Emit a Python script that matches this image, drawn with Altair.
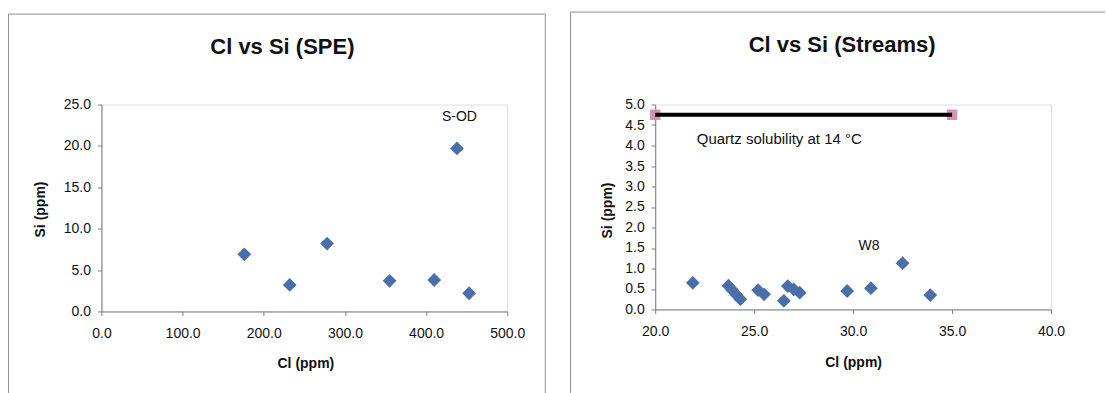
import altair as alt
import pandas as pd

# SPE samples: chloride vs silica (ppm)
spe_cl = [176, 232, 278, 355, 410, 438, 453]
spe_si = [6.9, 3.2, 8.2, 3.7, 3.8, 19.7, 2.2]
spe_label_text = ["S-OD"]
spe_label_cl = [441]
spe_label_si = [23.5]

# Stream samples: chloride vs silica (ppm)
stream_cl = [21.9, 23.7, 23.9, 24.1, 24.3, 25.2, 25.5, 26.5, 26.7, 27.0, 27.3, 29.7, 30.9, 32.5, 33.9]
stream_si = [0.65, 0.58, 0.47, 0.36, 0.25, 0.47, 0.37, 0.21, 0.57, 0.49, 0.41, 0.45, 0.52, 1.13, 0.35]
stream_label_text = ["W8"]
stream_label_cl = [30.8]
stream_label_si = [1.55]

# Quartz solubility reference line at 14 °C
quartz_cl = [20.0, 35.0]
quartz_si = [4.75, 4.75]
quartz_text = ["Quartz solubility at 14 °C"]
quartz_text_cl = [22.1]
quartz_text_si = [4.15]

titles = ["Cl vs Si (SPE)", "Cl vs Si (Streams)"]

spe_ticks_x = [0, 100, 200, 300, 400, 500]
spe_ticks_y = [0, 5, 10, 15, 20, 25]
stream_ticks_x = [20, 25, 30, 35, 40]
stream_ticks_y = [0, 0.5, 1, 1.5, 2, 2.5, 3, 3.5, 4, 4.5, 5]

FONT = "Liberation Sans"
BLUE = "#4a6fa8"
PINK = "#cf86ac"
AXIS_GREY = "#7a7a7a"
FRAME_GREY = "#8f8f8f"
INK = "#111111"

spe = pd.DataFrame({"cl": spe_cl, "si": spe_si})
spe_lab = pd.DataFrame({"cl": spe_label_cl, "si": spe_label_si, "text": spe_label_text})
streams = pd.DataFrame({"cl": stream_cl, "si": stream_si})
stream_lab = pd.DataFrame({"cl": stream_label_cl, "si": stream_label_si, "text": stream_label_text})
quartz = pd.DataFrame({"cl": quartz_cl, "si": quartz_si})
quartz_lab = pd.DataFrame({"cl": quartz_text_cl, "si": quartz_text_si, "text": quartz_text})
one = pd.DataFrame({"k": [0]})


def axis(values, title, orient, title_x, title_y):
    return alt.Axis(
        values=values, format=".1f", grid=False, title=title,
        domainColor=AXIS_GREY, tickColor=AXIS_GREY, tickSize=4,
        labelFont=FONT, labelFontSize=14, labelColor=INK,
        labelPadding=11 if orient == "x" else 7,
        labelFlush=False, labelOverlap=False,
        titleFont=FONT, titleFontSize=14, titleFontWeight="bold", titleColor=INK,
        titleX=title_x, titleY=title_y, titleBaseline="middle", titleAlign="center",
    )


def frame(x1, x2, y1, y2, right_edge=True):
    base = alt.Chart(one)
    parts = [
        base.mark_rule(color=FRAME_GREY, strokeWidth=1).encode(
            x=alt.value(x1), y=alt.value(y1), y2=alt.value(y2)),
        base.mark_rule(color=FRAME_GREY, strokeWidth=1).encode(
            x=alt.value(x1), x2=alt.value(x2), y=alt.value(y1)),
    ]
    if right_edge:
        parts.append(base.mark_rule(color=FRAME_GREY, strokeWidth=1).encode(
            x=alt.value(x2), y=alt.value(y1), y2=alt.value(y2)))
    return parts


def heading(text, x, y):
    return alt.Chart(one).mark_text(
        text=text, font=FONT, fontSize=22, fontWeight="bold", color=INK,
        align="center", baseline="alphabetic",
    ).encode(x=alt.value(x), y=alt.value(y))


def label_text(df, x, y, size=14, align="center"):
    return alt.Chart(df).mark_text(
        font=FONT, fontSize=size, color=INK, align=align, baseline="middle"
    ).encode(x=x, y=y, text="text:N")


# ---- left panel: SPE ----
LW, LH = 406, 207
lx = alt.X("cl:Q", scale=alt.Scale(domain=[0, 500], nice=False, zero=False),
           axis=axis(spe_ticks_x, "Cl (ppm)", "x", LW / 2 + 1, 52))
ly = alt.Y("si:Q", scale=alt.Scale(domain=[0, 25], nice=False, zero=False),
           axis=axis(spe_ticks_y, "Si (ppm)", "y", -61, LH / 2 + 1))

spe_points = alt.Chart(spe).mark_point(
    shape="diamond", filled=True, size=190, color=BLUE, opacity=1
).encode(x=lx, y=ly)

left = alt.layer(
    *frame(-93, 444, -90.5, 290.5),
    heading(titles[0], 181, -51),
    spe_points,
    label_text(spe_lab, lx, ly),
).properties(width=LW, height=LH)

# ---- right panel: Streams ----
RW, RH = 396, 205
rx = alt.X("cl:Q", scale=alt.Scale(domain=[20, 40], nice=False, zero=False),
           axis=axis(stream_ticks_x, "Cl (ppm)", "x", RW / 2, 53))
ry = alt.Y("si:Q", scale=alt.Scale(domain=[0, 5], nice=False, zero=False),
           axis=axis(stream_ticks_y, "Si (ppm)", "y", -48, RH / 2 + 3))

quartz_marks = alt.Chart(quartz).mark_square(size=110, color=PINK, opacity=0.9).encode(x=rx, y=ry)
quartz_line = alt.Chart(quartz).mark_line(color="#000000", strokeWidth=4).encode(x=rx, y=ry)
stream_points = alt.Chart(streams).mark_point(
    shape="diamond", filled=True, size=190, color=BLUE, opacity=1
).encode(x=rx, y=ry)

right = alt.layer(
    *frame(-84.7, 450, -92.5, 288.5, right_edge=False),
    heading(titles[1], 187, -53),
    quartz_marks, quartz_line,
    label_text(quartz_lab, rx, ry, size=15, align="left"),
    stream_points,
    label_text(stream_lab, rx, ry),
).properties(width=RW, height=RH)

chart = alt.hconcat(left, right, spacing=23).properties(
    padding={"left": 7.5, "top": 10.5, "right": 0, "bottom": 0},
    background="white",
).configure_view(stroke=None).configure(font=FONT)

chart.save("out.html", embed_options={"renderer": "svg", "actions": False})
